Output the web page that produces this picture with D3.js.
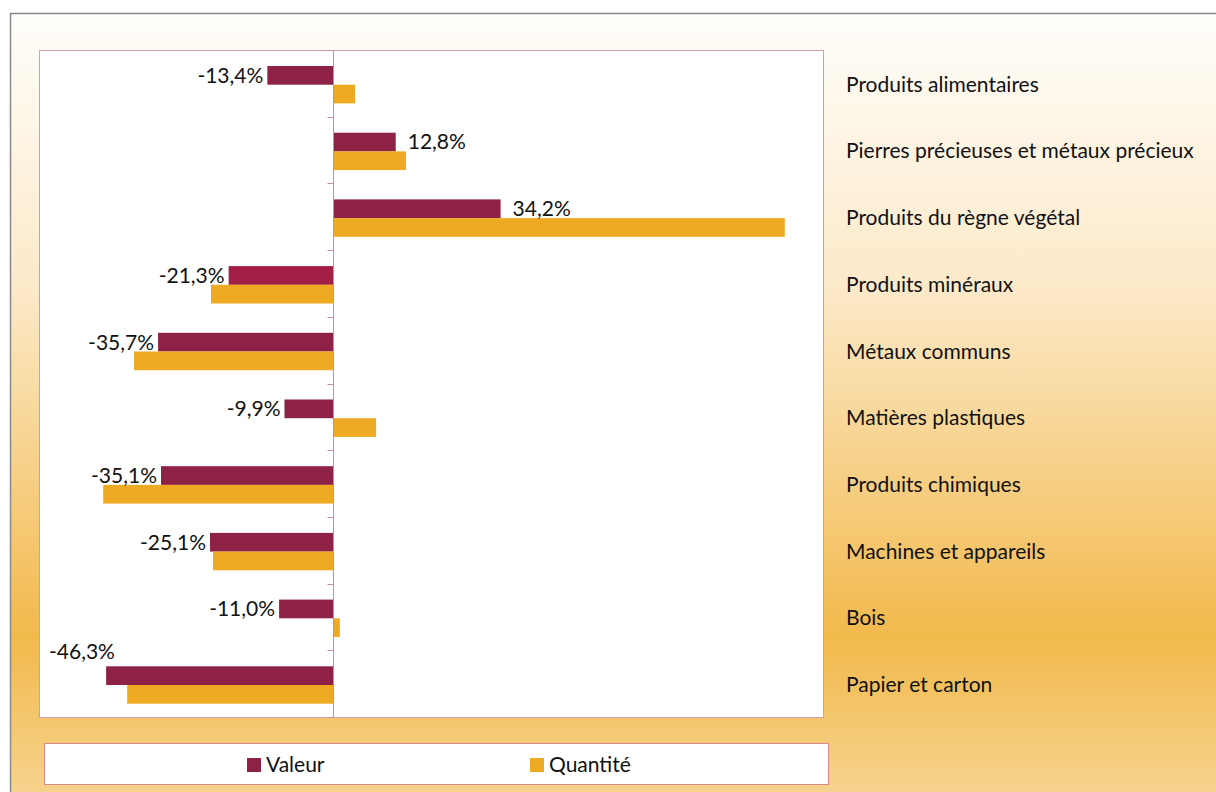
<!DOCTYPE html>
<html>
<head>
<meta charset="utf-8">
<script src="https://cdn.jsdelivr.net/npm/d3@7"></script>
<style>
  body { margin: 0; background: #fff; }
  svg text { font-family: Lato, "Open Sans", sans-serif; fill: #111; }
</style>
</head>
<body>
<svg id="chart" width="1216" height="792"></svg>
<script>
// categories top to bottom
let categories = [
  'Produits alimentaires',
  'Pierres précieuses et métaux précieux',
  'Produits du règne végétal',
  'Produits minéraux',
  'Métaux communs',
  'Matières plastiques',
  'Produits chimiques',
  'Machines et appareils',
  'Bois',
  'Papier et carton'
];
let valeur = [-13.4, 12.8, 34.2, -21.3, -35.7, -9.9, -35.1, -25.1, -11.0, -46.3];
let quantite = [4.5, 14.9, 92.2, -24.9, -40.6, 8.8, -46.9, -24.5, 1.4, -42.0];
let seriesNames = ['Valeur', 'Quantité'];

let valeurColor = '#8e2146';
let quantiteColor = '#efaa24';
let fontSize = 21;

let svg = d3.select('#chart');

// background gradient of the chart area
let defs = svg.append('defs');
let grad = defs.append('linearGradient')
  .attr('id', 'bg')
  .attr('x1', 0).attr('y1', 0).attr('x2', 0).attr('y2', 1);
grad.append('stop').attr('offset', 0).attr('stop-color', '#fffefb');
grad.append('stop').attr('offset', 0.35).attr('stop-color', '#fce9c8');
grad.append('stop').attr('offset', 0.79).attr('stop-color', '#f2b94c');
grad.append('stop').attr('offset', 1).attr('stop-color', '#f6d491');

svg.append('rect')
  .attr('x', 10).attr('y', 13)
  .attr('width', 1220).attr('height', 790)
  .attr('fill', 'url(#bg)');
svg.append('line')
  .attr('x1', 10).attr('x2', 1216).attr('y1', 13.5).attr('y2', 13.5)
  .attr('stroke', '#8a8a8a').attr('stroke-width', 1.5);
svg.append('line')
  .attr('x1', 10.5).attr('x2', 10.5).attr('y1', 13).attr('y2', 792)
  .attr('stroke', '#8a8a8a').attr('stroke-width', 1.5);

let plot = {left: 39, top: 50, right: 823, bottom: 717};

svg.append('rect')
  .attr('x', plot.left + 0.5).attr('y', plot.top + 0.5)
  .attr('width', plot.right - plot.left).attr('height', plot.bottom - plot.top)
  .attr('fill', '#fff')
  .attr('stroke', '#d49aae').attr('stroke-width', 1);

let x = d3.scaleLinear()
  .domain([-60, 100])
  .range([plot.left, plot.right]);

let y = d3.scaleBand()
  .domain(categories)
  .range([plot.top, plot.bottom]);

let inner = d3.scaleBand()
  .domain(seriesNames)
  .range([16, 16 + 37.4]);

let g = svg.append('g');

// bars
categories.forEach(function (cat, i) {
  let rows = [
    {name: 'Valeur', v: valeur[i], color: (i == 3 ? '#a31e45' : valeurColor)},
    {name: 'Quantité', v: quantite[i], color: quantiteColor}
  ];
  rows.forEach(function (r) {
    g.append('rect')
      .attr('x', Math.min(x(0), x(r.v)))
      .attr('y', y(cat) + inner(r.name))
      .attr('width', Math.abs(x(r.v) - x(0)))
      .attr('height', inner.bandwidth())
      .attr('fill', r.color);
  });
});

// zero axis with ticks at category boundaries
let axisG = svg.append('g')
  .attr('transform', 'translate(' + (x(0) + 0.5) + ',0)');
axisG.append('line')
  .attr('y1', plot.top).attr('y2', plot.bottom)
  .attr('stroke', '#c98ea4');
d3.range(categories.length + 1).forEach(function (k) {
  let yy = plot.top + k * y.step();
  axisG.append('line')
    .attr('x1', -6).attr('x2', 0)
    .attr('y1', Math.round(yy) + 0.5).attr('y2', Math.round(yy) + 0.5)
    .attr('stroke', '#c98ea4');
});

// data labels for Valeur
let fmt = function (v) { return d3.format('.1f')(v).replace('.', ',').replace('−', '-') + '%'; };
categories.forEach(function (cat, i) {
  let v = valeur[i];
  let cy = y(cat) + inner('Valeur') + inner.bandwidth() / 2;
  let t = g.append('text')
    .attr('font-size', fontSize)
    .attr('dy', '0.35em')
    .attr('y', cy)
    .text(fmt(v));
  if (v >= 0) {
    t.attr('x', x(v) + 12).attr('text-anchor', 'start');
  } else {
    let xx = x(v) - 4;
    let w = t.node().getComputedTextLength();
    if (xx - w < plot.left + 4) {
      // no room: put the label above the bar
      t.attr('x', plot.left + 10).attr('text-anchor', 'start')
        .attr('y', y(cat) + 1);
    } else {
      t.attr('x', xx).attr('text-anchor', 'end');
    }
  }
});

// category labels on the right
svg.append('g').selectAll('text')
  .data(categories)
  .join('text')
  .attr('x', 846)
  .attr('y', d => y(d) + y.bandwidth() / 2 + 1)
  .attr('dy', '0.35em')
  .attr('font-size', fontSize)
  .text(d => d);

// legend
svg.append('rect')
  .attr('x', 44.5).attr('y', 743.5)
  .attr('width', 784).attr('height', 41)
  .attr('fill', '#fff')
  .attr('stroke', '#d98a86');
let legendX = [247, 530];
let legendColors = [valeurColor, quantiteColor];
seriesNames.forEach(function (name, i) {
  svg.append('rect')
    .attr('x', legendX[i]).attr('y', 758)
    .attr('width', 14).attr('height', 14)
    .attr('fill', legendColors[i]);
  svg.append('text')
    .attr('x', legendX[i] + 19).attr('y', 765)
    .attr('dy', '0.35em')
    .attr('font-size', fontSize)
    .text(name);
});
</script>
</body>
</html>
